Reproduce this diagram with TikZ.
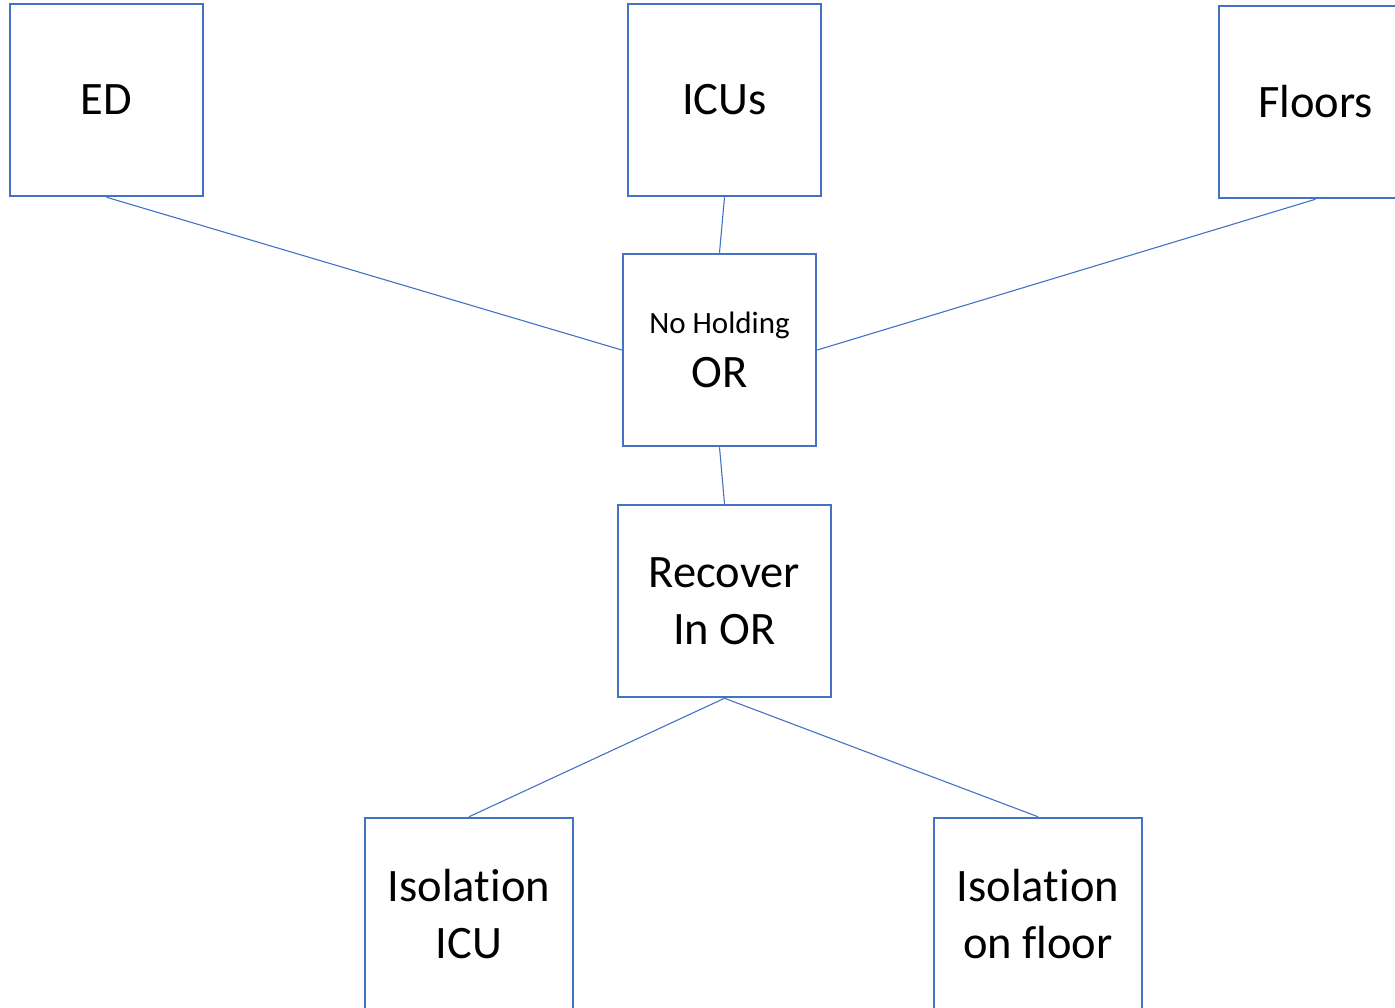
\documentclass[tikz,border=0pt]{standalone}
\usepackage{fontspec}
\setmainfont{Carlito}[Ligatures={NoCommon}]
\definecolor{boxblue}{HTML}{4472C4}
\begin{document}
\begin{tikzpicture}[x=1pt,y=-1pt,
  box/.style={draw=boxblue,line width=2.5pt,fill=white,minimum width=193pt,minimum height=192pt,inner sep=0pt,align=center,font=\fontsize{46.5}{57}\selectfont},
  widebox/.style={box,minimum width=208pt},
  link/.style={draw=boxblue,line width=1.1pt}]
\useasboundingbox (0,0) rectangle (1395,1007);
\node[box] (ed) at (106.5,100) {ED};
\node[box] (icu) at (724.5,100) {ICUs};
\node[box] (fl) at (1315.5,102) {Floors};
\node[box] (nh) at (719.5,350) {{\fontsize{31}{38}\selectfont No Holding}\\[-3pt]OR};
\node[widebox,minimum width=213pt] (rec) at (724.5,601) {Recover\\In OR};
\node[widebox] (iicu) at (469,914) {Isolation\\ICU};
\node[widebox] (ifl) at (1038,914) {Isolation\\on floor};
\draw[link] (ed.south) -- (nh.west);
\draw[link] (icu.south) -- (nh.north);
\draw[link] (fl.south) -- (nh.east);
\draw[link] (nh.south) -- (rec.north);
\draw[link] (rec.south) -- (iicu.north);
\draw[link] (rec.south) -- (ifl.north);
\end{tikzpicture}
\end{document}
